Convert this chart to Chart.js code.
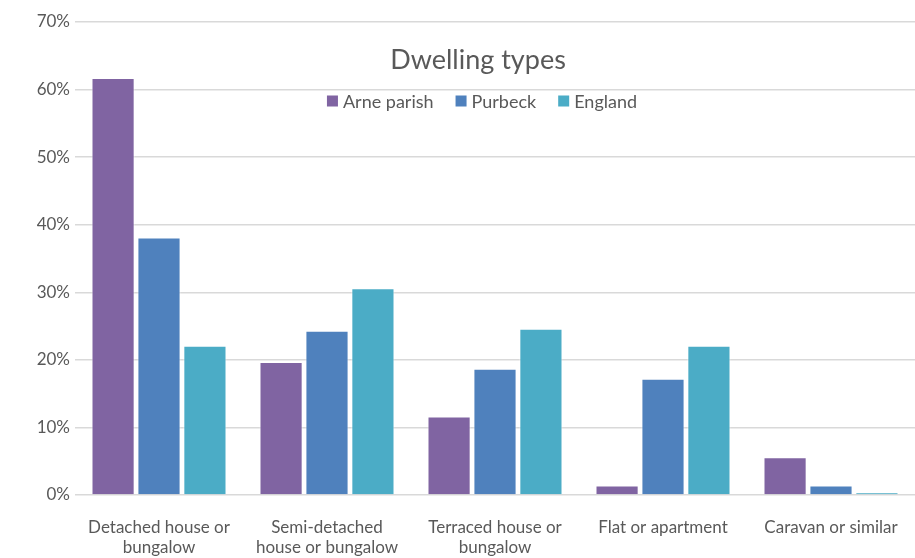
<!DOCTYPE html>
<html>
<head>
<meta charset="utf-8">
<script src="https://cdn.jsdelivr.net/npm/chart.js@4/dist/chart.umd.min.js"></script>
<style>
    html, body { margin: 0; padding: 0; background: #fff; }
    #wrap { width: 915px; height: 558px; }
</style>
</head>
<body>
<div id="wrap"><canvas id="chart" width="915" height="558"></canvas></div>
<script>
const categories = [
    ['Detached house or', 'bungalow'],
    ['Semi-detached', 'house or bungalow'],
    ['Terraced house or', 'bungalow'],
    'Flat or apartment',
    'Caravan or similar'
];
const arneParish = [0.617, 0.197, 0.116, 0.014, 0.056];
const purbeck = [0.381, 0.243, 0.187, 0.172, 0.014];
const england = [0.221, 0.306, 0.246, 0.221, 0.004];
const seriesNames = ['Arne parish', 'Purbeck', 'England'];
const chartTitle = 'Dwelling types';

const colors = {
    purple: '#8064a2',
    blue: '#4f81bd',
    teal: '#4bacc6',
    text: '#595959',
    grid: '#d9d9d9'
};
const font = 'Lato, "Open Sans", sans-serif';

// title + legend sit on top of the plot area, like the original
const overlay = {
    id: 'overlay',
    afterDraw(chart) {
        const ctx = chart.ctx;
        ctx.save();
        ctx.fillStyle = colors.text;
        ctx.textBaseline = 'middle';
        ctx.textAlign = 'center';
        ctx.font = '27px ' + font;
        ctx.fillText(chartTitle, 478, 60);

        ctx.font = '18px ' + font;
        ctx.textAlign = 'left';
        const box = 11, gap = 5, spacing = 22;
        let total = 0;
        chart.data.datasets.forEach((ds, i) => {
            total += box + gap + ctx.measureText(ds.label).width;
            if (i > 0) total += spacing;
        });
        let x = 482 - total / 2;
        chart.data.datasets.forEach((ds) => {
            ctx.fillStyle = ds.backgroundColor;
            ctx.fillRect(x, 101 - box / 2, box, box);
            x += box + gap;
            ctx.fillStyle = colors.text;
            ctx.fillText(ds.label, x, 102);
            x += ctx.measureText(ds.label).width + spacing;
        });
        ctx.restore();
    }
};

const ctx = document.getElementById('chart').getContext('2d');
new Chart(ctx, {
    type: 'bar',
    data: {
        labels: categories,
        datasets: [
            { label: seriesNames[0], data: arneParish, backgroundColor: colors.purple },
            { label: seriesNames[1], data: purbeck, backgroundColor: colors.blue },
            { label: seriesNames[2], data: england, backgroundColor: colors.teal }
        ].map(d => Object.assign(d, {
            borderColor: 'rgba(255,255,255,0.6)',
            borderWidth: 1,
            categoryPercentage: 0.82,
            barPercentage: 0.94
        }))
    },
    options: {
        responsive: false,
        animation: false,
        layout: { padding: { top: 22, right: 0, left: 0, bottom: 0 } },
        plugins: {
            legend: { display: false },
            title: { display: false },
            tooltip: { enabled: false }
        },
        scales: {
            x: {
                grid: { display: false },
                border: { display: false },
                ticks: {
                    color: colors.text,
                    font: { family: font, size: 17 },
                    padding: 14,
                    maxRotation: 0,
                    autoSkip: false
                },
                afterFit(scale) { scale.height = 63; }
            },
            y: {
                min: 0,
                max: 0.7,
                grid: { color: colors.grid, lineWidth: 1.5, drawTicks: false },
                border: { display: false },
                ticks: {
                    stepSize: 0.1,
                    color: colors.text,
                    font: { family: font, size: 17 },
                    padding: 5,
                    callback: v => Math.round(v * 100) + '%'
                },
                afterFit(scale) { scale.width = 75; }
            }
        }
    },
    plugins: [overlay]
});
</script>
</body>
</html>
